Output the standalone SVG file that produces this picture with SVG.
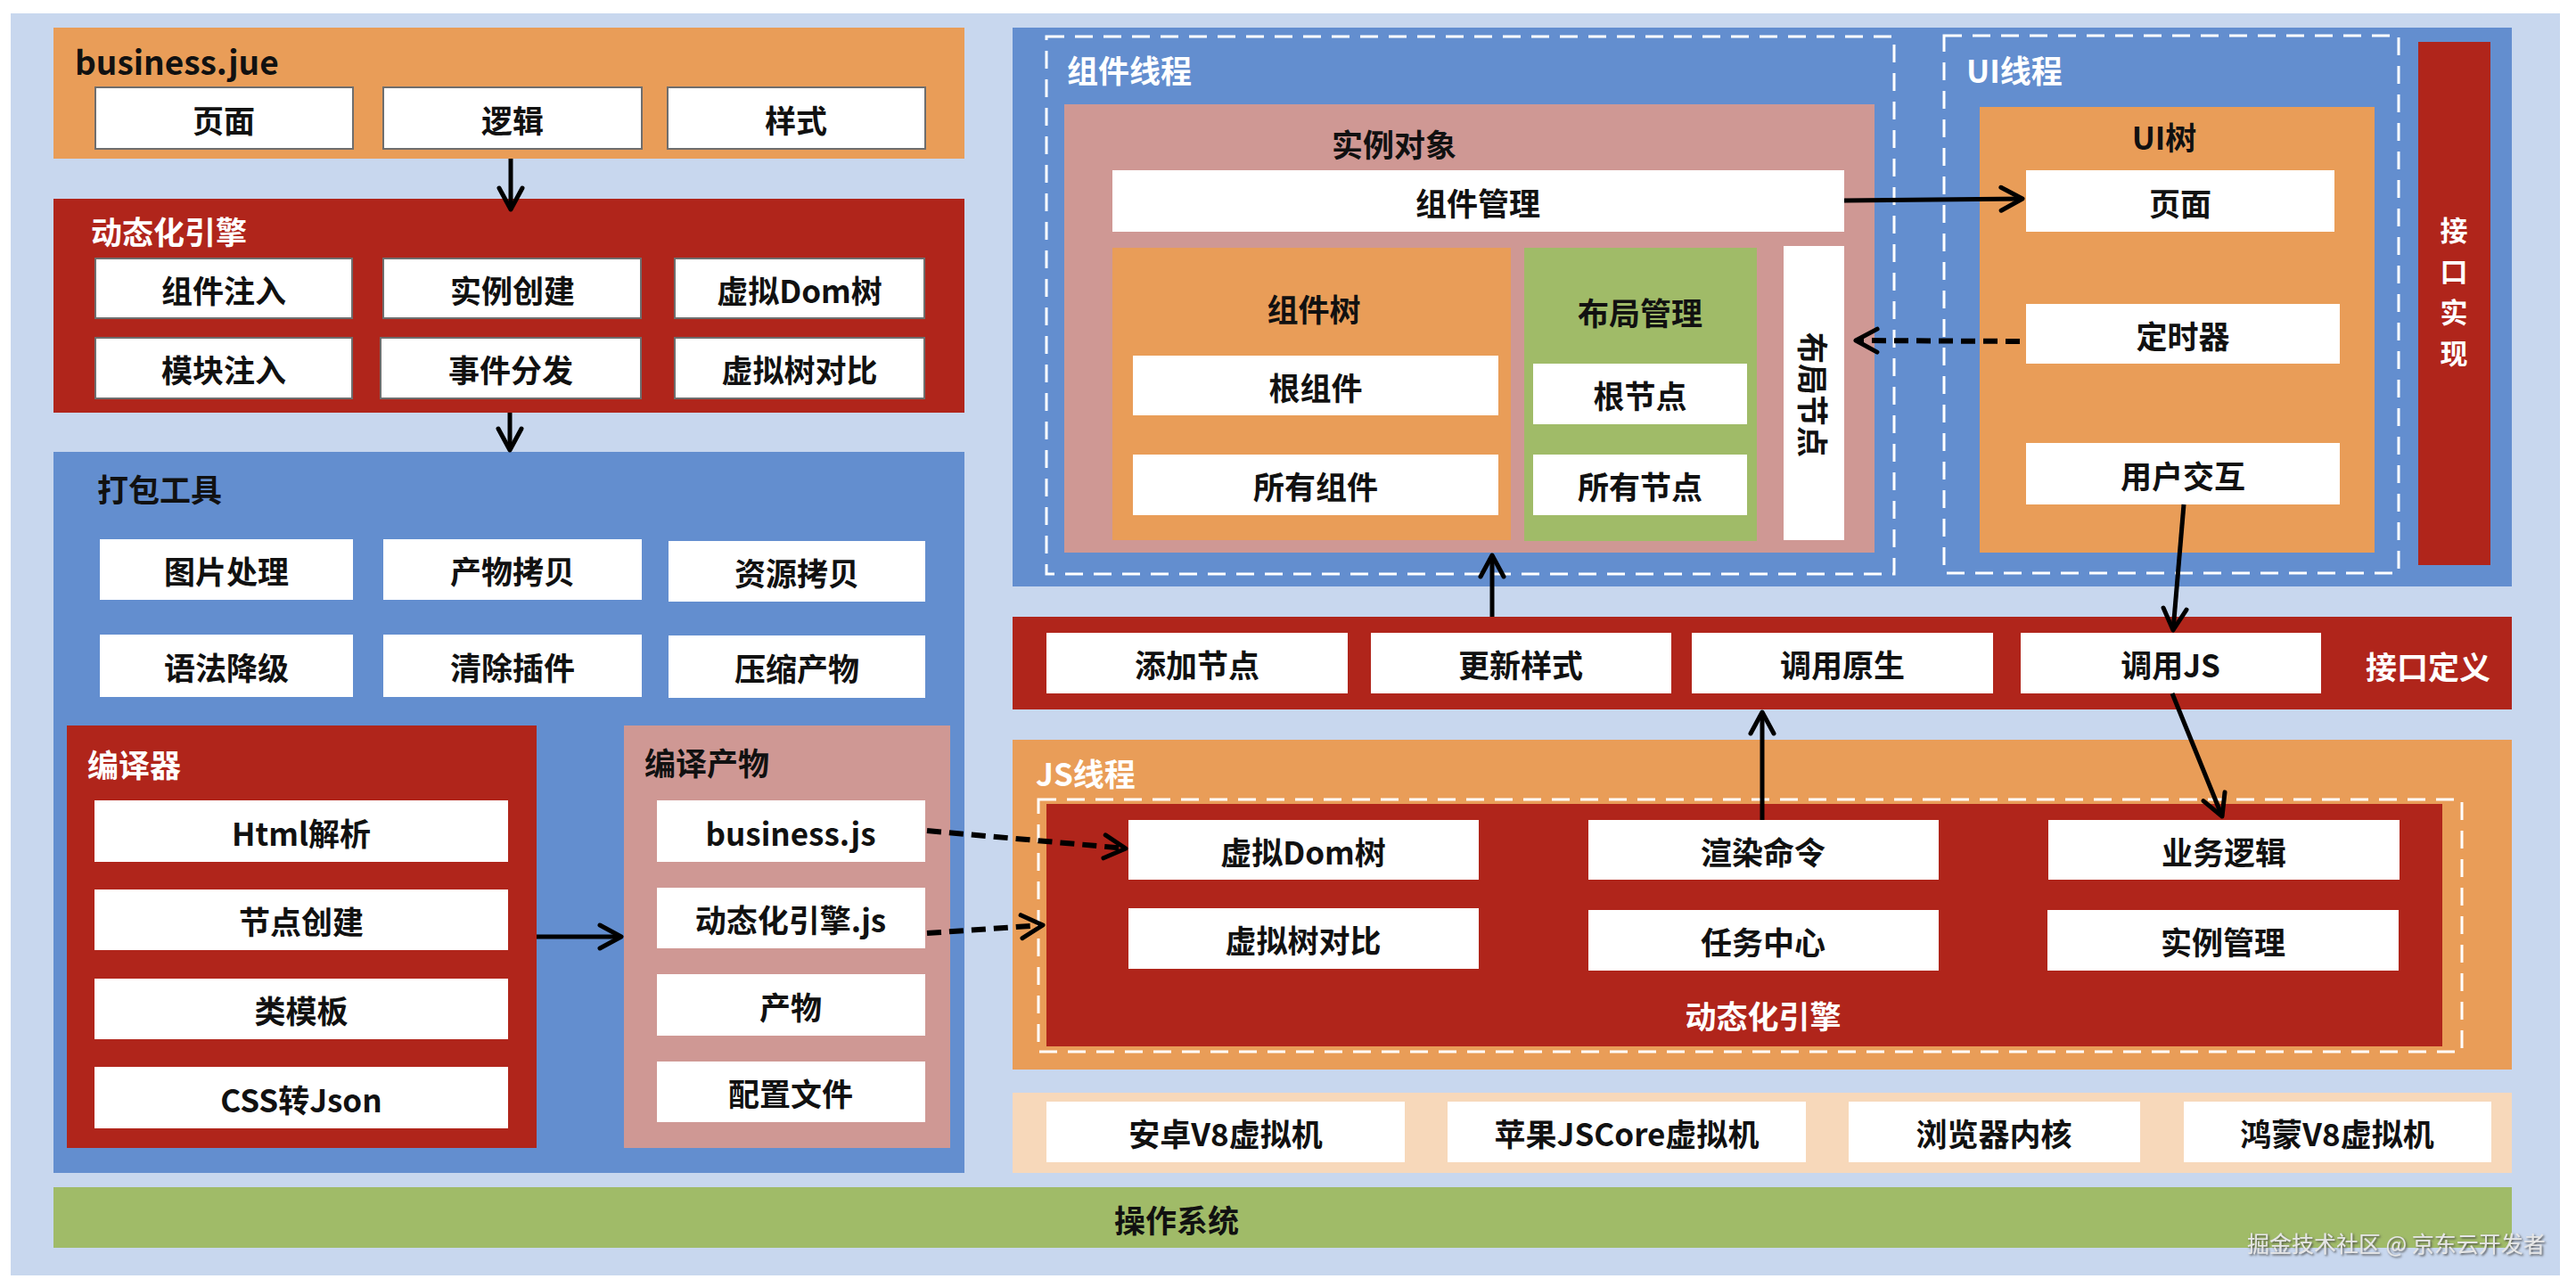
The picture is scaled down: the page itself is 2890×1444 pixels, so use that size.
<svg xmlns="http://www.w3.org/2000/svg" width="2890" height="1444" viewBox="0 0 2890 1444">
<style>
text{font-family:"Noto Sans CJK SC","Noto Sans",sans-serif;font-size:35px;font-weight:bold;fill:#111;dominant-baseline:central}
.c{text-anchor:middle}
.w{fill:#fff}
.vt{font-size:31px}
.box{fill:#fff}
.bbox{fill:#fff;stroke:#6e6e6e;stroke-width:2}
.orange{fill:#E99D58}
.red{fill:#B0251B}
.blue{fill:#638ECF}
.pink{fill:#CF9894}
.green{fill:#A0BB68}
.peach{fill:#F7D8BA}
.dash{fill:none;stroke:#fff;stroke-width:3;stroke-dasharray:20 12}
.ln{fill:none;stroke:#000;stroke-width:5;marker-end:url(#ah)}
.dl{fill:none;stroke:#000;stroke-width:6;stroke-dasharray:16 9;marker-end:url(#ah)}
.wm{font-size:25px;font-weight:normal;fill:#e6e6e6;text-anchor:start;filter:url(#sh)}
</style>
<defs>
<marker id="ah" markerUnits="userSpaceOnUse" markerWidth="50" markerHeight="50" viewBox="-35 -25 50 50" refX="0" refY="0" orient="auto">
<path d="M-24,-13 L0,0 L-24,13" fill="none" stroke="#000" stroke-width="5" stroke-dasharray="none" stroke-linecap="round" stroke-linejoin="round"/>
</marker>
<filter id="sh" x="-10%" y="-30%" width="120%" height="160%">
<feDropShadow dx="1.5" dy="1.5" stdDeviation="1" flood-color="#444" flood-opacity="0.9"/>
</filter>
</defs>

<rect x="12" y="15" width="2860" height="1416" fill="#C8D7EE"/>

<g id="business-jue">
<rect class="orange" x="60" y="31" width="1022" height="147"/>
<text x="84" y="68" style="font-size:37px">business.jue</text>
<rect class="bbox" x="107" y="98" width="289" height="69"/><text class="c" x="251" y="133">页面</text>
<rect class="bbox" x="430" y="98" width="290" height="69"/><text class="c" x="575" y="133">逻辑</text>
<rect class="bbox" x="749" y="98" width="289" height="69"/><text class="c" x="893" y="133">样式</text>
</g>

<g id="engine-left">
<rect class="red" x="60" y="223" width="1022" height="240"/>
<text class="w" x="102" y="258">动态化引擎</text>
<rect class="bbox" x="107" y="290" width="288" height="67"/><text class="c" x="251" y="324">组件注入</text>
<rect class="bbox" x="430" y="290" width="289" height="67"/><text class="c" x="575" y="324">实例创建</text>
<rect class="bbox" x="757" y="290" width="280" height="67"/><text class="c" x="897" y="324">虚拟Dom树</text>
<rect class="bbox" x="107" y="379" width="288" height="68"/><text class="c" x="251" y="413">模块注入</text>
<rect class="bbox" x="427" y="379" width="292" height="68"/><text class="c" x="573" y="413">事件分发</text>
<rect class="bbox" x="757" y="379" width="280" height="68"/><text class="c" x="897" y="413">虚拟树对比</text>
</g>

<g id="pack-tool">
<rect class="blue" x="60" y="507" width="1022" height="809"/>
<text x="109" y="547">打包工具</text>
<rect class="box" x="112" y="605" width="284" height="68"/><text class="c" x="254" y="639">图片处理</text>
<rect class="box" x="430" y="605" width="290" height="68"/><text class="c" x="575" y="639">产物拷贝</text>
<rect class="box" x="750" y="607" width="288" height="68"/><text class="c" x="894" y="641">资源拷贝</text>
<rect class="box" x="112" y="712" width="284" height="70"/><text class="c" x="254" y="747">语法降级</text>
<rect class="box" x="430" y="712" width="290" height="70"/><text class="c" x="575" y="747">清除插件</text>
<rect class="box" x="750" y="713" width="288" height="70"/><text class="c" x="894" y="748">压缩产物</text>
</g>

<g id="compiler">
<rect class="red" x="75" y="814" width="527" height="474"/>
<text class="w" x="98" y="856">编译器</text>
<rect class="box" x="106" y="898" width="464" height="69"/><text class="c" x="338" y="933">Html解析</text>
<rect class="box" x="106" y="998" width="464" height="68"/><text class="c" x="338" y="1032">节点创建</text>
<rect class="box" x="106" y="1098" width="464" height="68"/><text class="c" x="338" y="1132">类模板</text>
<rect class="box" x="106" y="1197" width="464" height="69"/><text class="c" x="338" y="1232">CSS转Json</text>
</g>

<g id="compile-output">
<rect class="pink" x="700" y="814" width="366" height="474"/>
<text x="723" y="854">编译产物</text>
<rect class="box" x="737" y="898" width="301" height="69"/><text class="c" x="887" y="933">business.js</text>
<rect class="box" x="737" y="996" width="301" height="68"/><text class="c" x="887" y="1030">动态化引擎.js</text>
<rect class="box" x="737" y="1093" width="301" height="69"/><text class="c" x="887" y="1128">产物</text>
<rect class="box" x="737" y="1191" width="301" height="68"/><text class="c" x="887" y="1225">配置文件</text>
</g>

<g id="threads-container">
<rect class="blue" x="1136" y="31" width="1682" height="627"/>
</g>

<g id="component-thread">
<rect class="dash" x="1174" y="41" width="951" height="603"/>
<text class="w" x="1197" y="77">组件线程</text>
<rect class="pink" x="1194" y="117" width="909" height="503"/>
<text class="c" x="1564" y="160">实例对象</text>
<rect class="box" x="1248" y="191" width="821" height="69"/><text class="c" x="1658" y="226">组件管理</text>
<rect class="orange" x="1248" y="278" width="447" height="328"/>
<text class="c" x="1474" y="345">组件树</text>
<rect class="box" x="1271" y="399" width="410" height="67"/><text class="c" x="1476" y="433">根组件</text>
<rect class="box" x="1271" y="510" width="410" height="68"/><text class="c" x="1476" y="544">所有组件</text>
<rect class="green" x="1710" y="278" width="261" height="329"/>
<text class="c" x="1840" y="349">布局管理</text>
<rect class="box" x="1720" y="408" width="240" height="68"/><text class="c" x="1840" y="442">根节点</text>
<rect class="box" x="1720" y="510" width="240" height="68"/><text class="c" x="1840" y="544">所有节点</text>
<rect class="box" x="2001" y="276" width="68" height="330"/>
<text class="c" transform="translate(2035,443) rotate(90)" x="0" y="0">布局节点</text>
</g>

<g id="ui-thread">
<rect class="dash" x="2181" y="40" width="510" height="603"/>
<text class="w" x="2206" y="77">UI线程</text>
<rect class="orange" x="2221" y="120" width="443" height="500"/>
<text class="c" x="2428" y="152">UI树</text>
<rect class="box" x="2273" y="191" width="346" height="69"/><text class="c" x="2446" y="226">页面</text>
<rect class="box" x="2273" y="341" width="352" height="67"/><text class="c" x="2449" y="375">定时器</text>
<rect class="box" x="2273" y="497" width="352" height="69"/><text class="c" x="2449" y="532">用户交互</text>
</g>

<g id="interface-impl">
<rect class="red" x="2713" y="47" width="81" height="587"/>
<text class="w c vt" x="2753" y="256">接</text>
<text class="w c vt" x="2753" y="302">口</text>
<text class="w c vt" x="2753" y="348">实</text>
<text class="w c vt" x="2753" y="394">现</text>
</g>

<g id="interface-def">
<rect class="red" x="1136" y="692" width="1682" height="104"/>
<rect class="box" x="1174" y="710" width="338" height="68"/><text class="c" x="1343" y="744">添加节点</text>
<rect class="box" x="1538" y="710" width="337" height="68"/><text class="c" x="1706" y="744">更新样式</text>
<rect class="box" x="1898" y="710" width="338" height="68"/><text class="c" x="2067" y="744">调用原生</text>
<rect class="box" x="2267" y="710" width="337" height="68"/><text class="c" x="2435" y="744">调用JS</text>
<text class="w c" x="2724" y="746">接口定义</text>
</g>

<g id="js-thread">
<rect class="orange" x="1136" y="830" width="1682" height="370"/>
<text class="w" x="1162" y="866">JS线程</text>
<rect class="dash" x="1165" y="897" width="1597" height="283"/>
<rect class="red" x="1174" y="902" width="1566" height="272"/>
<rect class="box" x="1266" y="920" width="393" height="67"/><text class="c" x="1462" y="954">虚拟Dom树</text>
<rect class="box" x="1782" y="920" width="393" height="67"/><text class="c" x="1978" y="954">渲染命令</text>
<rect class="box" x="2298" y="920" width="394" height="67"/><text class="c" x="2495" y="954">业务逻辑</text>
<rect class="box" x="1266" y="1019" width="393" height="68"/><text class="c" x="1462" y="1053">虚拟树对比</text>
<rect class="box" x="1782" y="1021" width="393" height="68"/><text class="c" x="1978" y="1055">任务中心</text>
<rect class="box" x="2297" y="1021" width="394" height="68"/><text class="c" x="2494" y="1055">实例管理</text>
<text class="w c" x="1978" y="1138">动态化引擎</text>
</g>

<g id="vm-layer">
<rect class="peach" x="1136" y="1226" width="1682" height="90"/>
<rect class="box" x="1174" y="1236" width="402" height="68"/><text class="c" x="1375" y="1270">安卓V8虚拟机</text>
<rect class="box" x="1624" y="1236" width="402" height="68"/><text class="c" x="1825" y="1270">苹果JSCore虚拟机</text>
<rect class="box" x="2074" y="1236" width="327" height="68"/><text class="c" x="2237" y="1270">浏览器内核</text>
<rect class="box" x="2450" y="1236" width="345" height="68"/><text class="c" x="2622" y="1270">鸿蒙V8虚拟机</text>
</g>

<g id="os">
<rect class="green" x="60" y="1332" width="2758" height="68"/>
<text class="c" x="1320" y="1367">操作系统</text>
</g>

<g id="connectors">
<line class="ln" x1="573" y1="178" x2="573" y2="235"/>
<line class="ln" x1="572" y1="463" x2="572" y2="505"/>
<line class="ln" x1="602" y1="1051" x2="697" y2="1051"/>
<line class="dl" x1="1040" y1="932" x2="1263" y2="952"/>
<line class="dl" x1="1040" y1="1047" x2="1170" y2="1038"/>
<line class="ln" x1="1977" y1="920" x2="1977" y2="799"/>
<line class="ln" x1="1674" y1="692" x2="1674" y2="623"/>
<line class="ln" x1="2069" y1="225" x2="2269" y2="223"/>
<line class="dl" x1="2266" y1="383" x2="2082" y2="382"/>
<line class="ln" x1="2450" y1="566" x2="2438" y2="707"/>
<line class="ln" x1="2437" y1="778" x2="2493" y2="916"/>
</g>

<text class="wm" x="2521" y="1394">掘金技术社区 @ 京东云开发者</text>
</svg>
